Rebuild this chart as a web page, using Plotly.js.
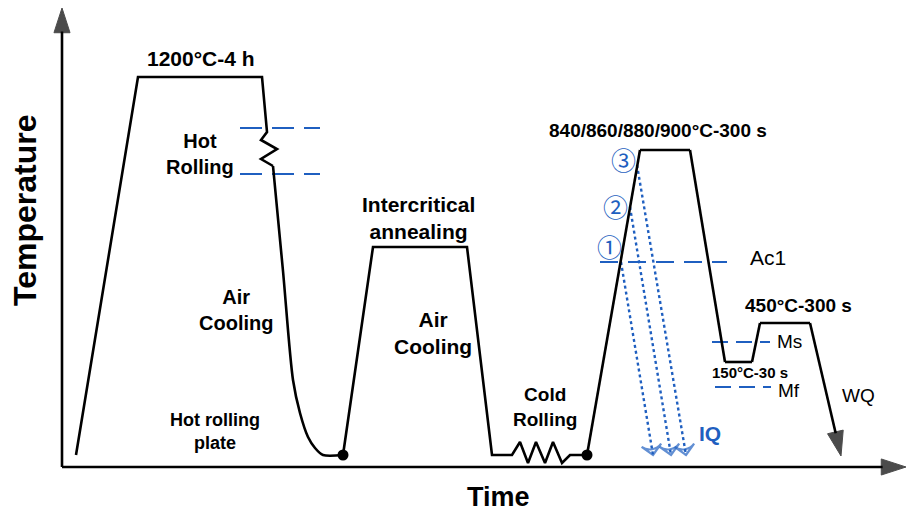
<!DOCTYPE html>
<html>
<head>
<meta charset="utf-8">
<script src="https://cdn.plot.ly/plotly-3.0.1.min.js"></script>
<style>
  html, body { margin: 0; padding: 0; background: #ffffff; }
  #chart { width: 909px; height: 511px; }
</style>
</head>
<body>
<div id="chart"></div>
<script>
// Schematic heat-treatment route: time (x) vs temperature (y), arbitrary units.

// Hot rolling stage: reheating, 1200 °C hold, rolling (zigzag)
const hotTime = [76, 138, 262, 267, 261, 277, 261, 273];
const hotTemp = [56, 434, 434, 379, 371, 362, 352, 345];
// air cooling after hot rolling (smooth curve)
const coolTime = [273, 283, 293, 300, 308, 315, 323, 343];
const coolTemp = [345, 240, 131, 98, 74, 63, 56, 56];

// Intercritical annealing, air cooling and cold rolling
const icaTime = [343, 373, 467, 492, 512, 520, 528, 536, 545, 553, 562, 570, 587];
const icaTemp = [56, 264, 264, 56, 56, 69, 48, 69, 48, 69, 48, 56, 56];

// Final annealing, quench to 150 °C, partitioning at 450 °C, water quench
const qpTime = [587, 640, 690, 725, 752, 760, 810, 841];
const qpTemp = [56, 361, 361, 149, 149, 188, 188, 55];

// Process checkpoints (plate state)
const dotTime = [343, 587];
const dotTemp = [56, 56];

// Intercritical quench paths (IQ) from points 1, 2 and 3 on the heating ramp
const iqStartTime = [621, 630, 637];
const iqStartTemp = [249, 304, 346];
const iqEndTime = [653, 671, 686];
const iqEndTemp = [56, 56, 56];
const iqMarks = ['\u2460', '\u2461', '\u2462'];

// Reference temperatures (dashed)
const rollStartTemp = 383, rollEndTemp = 337;
const ac1Temp = 249, msTemp = 169, mfTemp = 124;

// Axis frame
const originTime = 62, originTemp = 44;
const axisEndTime = 906, axisEndTemp = 503;

const BLACK = '#000000';
const BLUE = '#1f5fc0';
const FONT = 'Liberation Sans, Arial, sans-serif';

const traces = [];

function path(x, y, opts) {
  traces.push(Object.assign({
    x: x, y: y, mode: 'lines', hoverinfo: 'skip',
    line: { color: BLACK, width: 2.6 }
  }, opts || {}));
}

// axes with arrowheads
const axisHead = { symbol: 'arrow', size: [0, 26], color: BLACK,
                   line: { color: BLACK, width: 1 }, angleref: 'previous' };
path([originTime, originTime], [originTemp, axisEndTemp], {
  mode: 'lines+markers', line: { color: BLACK, width: 2.6 }, marker: axisHead
});
path([originTime, axisEndTime], [originTemp, originTemp], {
  mode: 'lines+markers', line: { color: BLACK, width: 2.6 }, marker: axisHead
});

// dashed reference lines
function dashed(x0, x1, y, dash) {
  path([x0, x1], [y, y], { line: { color: BLUE, width: 2.2, dash: dash } });
}
dashed(240, 320, rollStartTemp, '22px,10px');
dashed(240, 320, rollEndTemp, '22px,10px');
dashed(600, 727, ac1Temp, '18px,10px');
dashed(712, 770, msTemp, '16px,8px');
dashed(715, 771, mfTemp, '16px,8px');

// IQ dotted quench paths
for (let i = 0; i < iqStartTime.length; i++) {
  path([iqStartTime[i], iqEndTime[i]], [iqStartTemp[i], iqEndTemp[i]], {
    mode: 'lines+markers',
    line: { color: BLUE, width: 2.4, dash: '3px,3px' },
    marker: { symbol: 'arrow-wide-open', size: [0, 14], color: BLUE,
              line: { color: BLUE, width: 2.2 }, angleref: 'previous' }
  });
}

// process curves
path(hotTime, hotTemp);
path(coolTime, coolTemp, { line: { color: BLACK, width: 2.6, shape: 'spline', smoothing: 0.8 } });
path(icaTime, icaTemp);
path(qpTime, qpTemp, {
  mode: 'lines+markers',
  marker: { symbol: 'arrow', size: qpTime.map((_, i) => i === qpTime.length - 1 ? 26 : 0),
            color: BLACK, line: { color: BLACK, width: 1 }, angleref: 'previous' }
});
traces.push({
  x: dotTime, y: dotTemp, mode: 'markers', hoverinfo: 'skip',
  marker: { color: BLACK, size: 11 }
});

function label(text, x, y, size, opts) {
  return Object.assign({
    text: text, x: x, y: y, xref: 'x', yref: 'y', showarrow: false,
    xanchor: 'center', yanchor: 'middle', align: 'center',
    font: { family: FONT, size: size, color: BLACK }
  }, opts || {});
}
const b = s => '<b>' + s + '</b>';

const annotations = [
  label(b('1200°C-4 h'), 201, 453, 21),
  label(b('Hot<br>Rolling'), 200, 357, 20),
  label(b('Air<br>Cooling'), 236, 201, 20),
  label(b('Hot rolling<br>plate'), 215, 80, 18),
  label(b('Intercritical<br>annealing'), 418, 293, 21),
  label(b('Air<br>Cooling'), 433, 178, 21),
  label(b('Cold<br>Rolling'), 545, 104, 19),
  label(b('840/860/880/900°C-300 s'), 658, 381, 19),
  label('Ac1', 768, 254, 21),
  label(b('450°C-300 s'), 798, 206, 19),
  label('Ms', 789, 170, 19),
  label(b('150°C-30 s'), 750, 139, 15),
  label('Mf', 789, 121, 19),
  label('WQ', 858, 116, 19),
  label(b('IQ'), 710, 78, 21, { font: { family: FONT, size: 21, color: BLUE } }),
  label(b('Time'), 498, 14, 27),
  label(b('Temperature'), 25, 300, 32, { textangle: -90 })
];
const markPos = [[609, 265], [615, 305], [623, 352]];
iqMarks.forEach((m, i) => {
  annotations.push(label(m, markPos[i][0], markPos[i][1], 25,
    { font: { family: 'Noto Sans CJK JP, DejaVu Sans, sans-serif', size: 25, color: BLUE } }));
});

const layout = {
  width: 909, height: 511,
  margin: { l: 0, r: 0, t: 0, b: 0 },
  paper_bgcolor: '#ffffff', plot_bgcolor: '#ffffff',
  showlegend: false,
  xaxis: { range: [0, 909], visible: false, fixedrange: true },
  yaxis: { range: [0, 511], visible: false, fixedrange: true },
  annotations: annotations
};

Plotly.newPlot('chart', traces, layout, { displayModeBar: false, staticPlot: true });
</script>
</body>
</html>
